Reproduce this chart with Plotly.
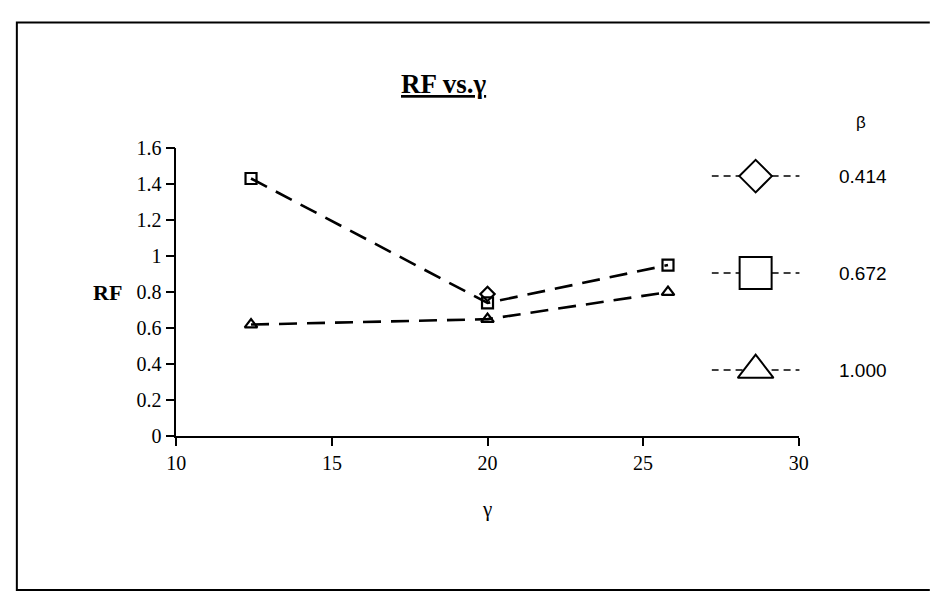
import plotly.graph_objects as go

# Data
gamma = [12.4, 20.0, 25.8]
rf_0414 = [None, 0.79, None]
rf_0672 = [1.43, 0.74, 0.95]
rf_1000 = [0.62, 0.65, 0.80]
beta_labels = ["0.414", "0.672", "1.000"]
symbols = ["diamond-open", "square-open", "triangle-up-open"]
legend_sizes = [25, 32, 31]
x_ticks = [10, 15, 20, 25, 30]
y_ticks = [0, 0.2, 0.4, 0.6, 0.8, 1.0, 1.2, 1.4, 1.6]
y_tick_text = ["0", "0.2", "0.4", "0.6", "0.8", "1", "1.2", "1.4", "1.6"]

W, H = 931, 603

def px(x):
    return x / W

def py(y):
    return 1 - y / H

serif = "Liberation Serif"
sans = "Liberation Sans"

fig = go.Figure()
series = [rf_0414, rf_0672, rf_1000]
for ys, sym, lab in zip(series, symbols, beta_labels):
    fig.add_trace(go.Scatter(
        x=gamma, y=ys, mode="lines+markers", name=lab,
        line=dict(color="black", width=2.6, dash="18px,10px"),
        marker=dict(symbol=sym, size=11, color="black", line=dict(width=2.2, color="black")),
        connectgaps=False, showlegend=False, xaxis="x", yaxis="y"))

# custom legend on hidden axes
for i, (sym, lab, ms) in enumerate(zip(symbols, beta_labels, legend_sizes)):
    fig.add_trace(go.Scatter(
        x=[0, 0.5, 1], y=[-i, -i, -i], mode="lines",
        line=dict(color="black", width=1.5, dash="7px,5px"),
        showlegend=False, xaxis="x2", yaxis="y2", hoverinfo="skip"))
    fig.add_trace(go.Scatter(
        x=[0.5], y=[-i], mode="markers",
        marker=dict(symbol=sym.replace("-open", ""), size=ms, color="white",
                    line=dict(width=2, color="black")),
        showlegend=False, xaxis="x2", yaxis="y2", hoverinfo="skip"))
    fig.add_annotation(x=px(845), y=-i, xref="paper", yref="y2", text=lab, showarrow=False,
                       xanchor="left", yanchor="middle", font=dict(family=sans, size=19, color="black"))

fig.update_layout(
    width=W, height=H, margin=dict(l=0, r=0, t=0, b=0),
    paper_bgcolor="white", plot_bgcolor="white",
    xaxis=dict(domain=[px(170), px(806)], range=[10, 30], tickvals=x_ticks, showgrid=False,
               zeroline=False, anchor="y",
               showline=True, linecolor="black", linewidth=1.6, ticks="outside",
               ticklen=8, tickwidth=1.6, tickcolor="black",
               tickfont=dict(family=serif, size=20, color="black"),
               title=dict(text="γ", font=dict(family=serif, size=21, color="black"), standoff=28)),
    yaxis=dict(domain=[py(441.5), py(142)], range=[0, 1.6], tickvals=y_ticks, ticktext=y_tick_text,
               showgrid=False, anchor="x",
               zeroline=False, showline=True, linecolor="black", linewidth=1.6,
               ticks="outside", ticklen=9, tickwidth=1.6, tickcolor="black",
               tickfont=dict(family=serif, size=20, color="black")),
    xaxis2=dict(domain=[px(717), px(807)], range=[0, 1], visible=False, anchor="y2"),
    yaxis2=dict(domain=[py(423), py(121)], range=[-2.5, 0.5], visible=False, anchor="x2"),
    showlegend=False,
)

fig.add_annotation(x=px(443), y=py(76), xref="paper", yref="paper", text="<u><b>RF vs.γ</b></u>",
                   showarrow=False, xanchor="center", yanchor="middle",
                   font=dict(family=serif, size=27, color="black"))
fig.add_annotation(x=px(100), y=py(292), xref="paper", yref="paper", text="<b>RF</b>",
                   showarrow=False, xanchor="center", yanchor="middle",
                   font=dict(family=serif, size=22, color="black"))
fig.add_annotation(x=px(870), y=py(116), xref="paper", yref="paper", text="β",
                   showarrow=False, xanchor="center", yanchor="middle",
                   font=dict(family=sans, size=17, color="black"))
fig.add_shape(type="path", xref="paper", yref="paper",
              path=f"M {px(940)},{py(12)} L {px(7)},{py(12)} L {px(7)},{py(601)} L {px(940)},{py(601)}",
              line=dict(color="black", width=2), layer="below")

fig.write_html(
    "out.html",
    config={"displayModeBar": False},
    post_script="document.body.style.margin='0';document.body.style.overflow='hidden';",
)
